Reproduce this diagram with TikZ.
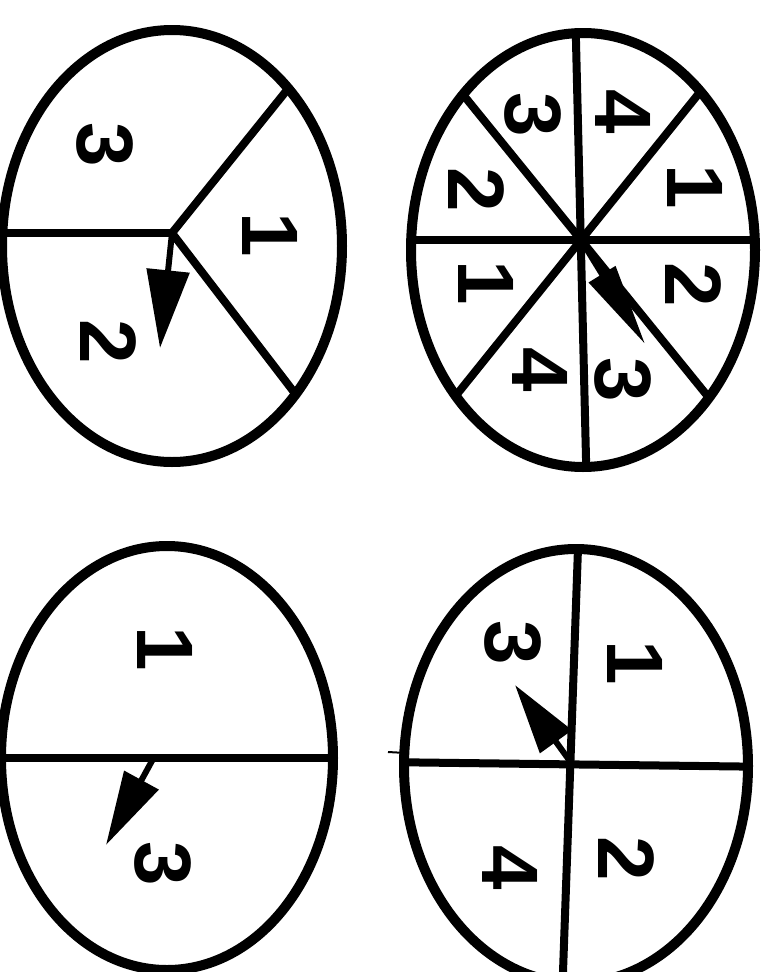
\documentclass[tikz,border=0pt]{standalone}
\usepackage{fontspec}
\setsansfont{Liberation Sans}
\usetikzlibrary{arrows.meta,calc}
\tikzset{
  rim/.style={line width=10pt},
  spoke/.style={line width=8pt},
  digit/.style={font=\sffamily\bfseries\fontsize{80}{80}\selectfont, rotate=-90, inner sep=0pt},
  pointer/.style={line width=6pt, -{Triangle[length=#1]}},
}
\begin{document}
\begin{tikzpicture}[x=1pt, y=-1pt]
  \useasboundingbox (0,0) rectangle (766,972);
  \clip (0,0) rectangle (766,972);

  % spinner with three parts
  \coordinate (hubA) at (172,233);
  \begin{scope}
    \clip (172,246) ellipse [x radius=170, y radius=216];
    \draw[spoke] (hubA) -- (-20,233);
    \draw[spoke] (hubA) -- ($(hubA)!3!(283,95)$);
    \draw[spoke] (hubA) -- ($(hubA)!3!(287,383)$);
  \end{scope}
  \draw[rim] (172,246) ellipse [x radius=170, y radius=216];
  \draw[pointer={78pt,width=42pt}] (hubA) -- (160,348);
  \node[digit] (a3) at (105,145) {3};
  \node[digit] (a1) at (270,235) {1};
  \node[digit] (a2) at (108,342) {2};

  % spinner with eight parts
  \coordinate (hubB) at (581,240);
  \begin{scope}
    \clip (583,250) ellipse [x radius=172, y radius=217];
    \draw[spoke] (575,0) -- (587,500);
    \draw[spoke] (380,240) -- (790,240);
    \draw[spoke] ($(hubB)!-3!(465,97)$) -- ($(hubB)!3!(465,97)$);
    \draw[spoke] ($(hubB)!-3!(696,97)$) -- ($(hubB)!3!(696,97)$);
  \end{scope}
  \draw[rim] (583,250) ellipse [x radius=172, y radius=217];
  \draw[pointer={82pt,width=30pt}] (hubB) -- (645,344);
  \node[digit] (b3) at (533,115) {3};
  \node[digit] (b4) at (623,112) {4};
  \node[digit] (b1) at (695,187) {1};
  \node[digit] (b2) at (476,190) {2};
  \node[digit] (b5) at (486,283) {1};
  \node[digit] (b6) at (693,285) {2};
  \node[digit] (b7) at (540,370) {4};
  \node[digit] (b8) at (623,380) {3};

  % spinner with two parts
  \coordinate (hubC) at (153,759);
  \begin{scope}
    \clip (167,758) ellipse [x radius=166, y radius=212];
    \draw[spoke] (-20,758) -- (360,758);
  \end{scope}
  \draw[rim] (167,758) ellipse [x radius=166, y radius=212];
  \draw[pointer={74pt,width=38pt}] (hubC) -- (106,845);
  \node[digit] (c1) at (165,649) {1};
  \node[digit] (c3) at (163,864) {3};

  % spinner with four parts
  \coordinate (hubD) at (572,764);
  \begin{scope}
    \clip (576,766) ellipse [x radius=172, y radius=217];
    \draw[spoke] (579,520) -- (562,1000);
    \draw[spoke] (380,762) -- (780,767);
  \end{scope}
  \draw[rim] (576,766) ellipse [x radius=172, y radius=217];
  \draw[line width=2pt] (388,752) -- (406,753);
  \draw[pointer={70pt,width=38pt}] (hubD) -- (515,685);
  \node[digit] (d3) at (513,643) {3};
  \node[digit] (d1) at (635,663) {1};
  \node[digit] (d4) at (510,868) {4};
  \node[digit] (d2) at (626,859) {2};
\end{tikzpicture}
\end{document}
